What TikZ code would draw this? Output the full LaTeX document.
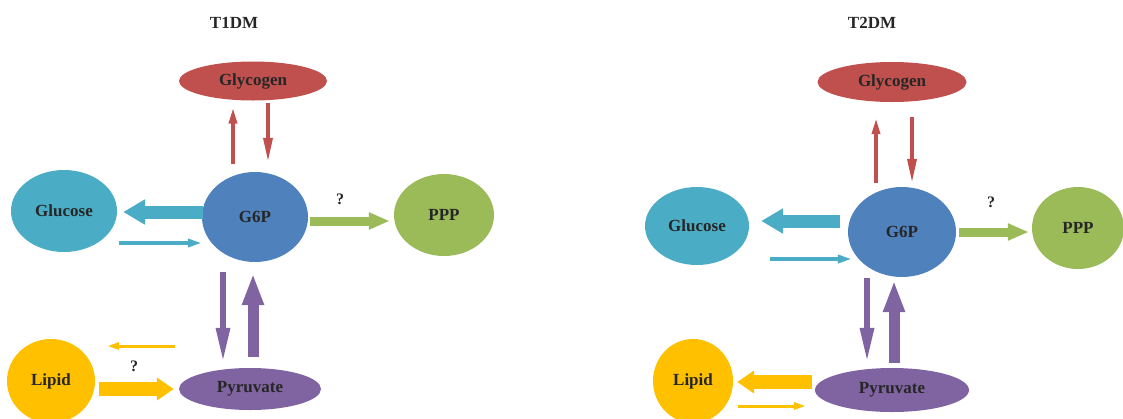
\documentclass[tikz,border=0pt]{standalone}
\usepackage{fontspec}
\setmainfont{Liberation Serif}
\usetikzlibrary{shapes.geometric,arrows.meta,calc}
\definecolor{cred}{HTML}{C0504D}
\definecolor{ccyan}{HTML}{4BACC6}
\definecolor{cblue}{HTML}{4F81BD}
\definecolor{cgreen}{HTML}{9BBB59}
\definecolor{cyel}{HTML}{FFC000}
\definecolor{cpur}{HTML}{8064A2}
\tikzset{
  blob/.style={ellipse, inner sep=0pt, draw=none, font=\fontsize{17}{17}\selectfont\bfseries, text=black!85},
  title/.style={font=\fontsize{17}{17}\selectfont\bfseries, text=black!85},
  qm/.style={font=\fontsize{16}{16}\selectfont\bfseries, text=black!85},
  redthin/.style={draw=cred, line width=3.5pt, -{Triangle[width=8pt,length=16pt]}},
  reddown/.style={draw=cred, line width=3.5pt, -{Triangle[width=9pt,length=24pt]}},
  cyanthick/.style={draw=ccyan, line width=13pt, -{Triangle[width=24pt,length=22pt]}},
  cyanthin/.style={draw=ccyan, line width=4pt, -{Triangle[width=8pt,length=14pt]}},
  greenarr/.style={draw=cgreen, line width=9pt, -{Triangle[width=16pt,length=21pt]}},
  purthin/.style={draw=cpur, line width=6pt, -{Triangle[width=13pt,length=35pt]}},
  purthick/.style={draw=cpur, line width=11pt, -{Triangle[width=20pt,length=32pt]}},
  yelthick/.style={draw=cyel, line width=14pt, -{Triangle[width=22pt,length=17pt]}},
  yelthin/.style={draw=cyel, line width=3pt, -{Triangle[width=7pt,length=12pt]}},
}
\begin{document}
\begin{tikzpicture}[x=1pt,y=-1pt]
\useasboundingbox (0,0) rectangle (1123,418);
% ---------- T1DM ----------
\node[title] (t1) at (234,23) {T1DM};
\node[blob, fill=cred, minimum width=148pt, minimum height=39pt] (gly1) at (253,81) {Glycogen};
\node[blob, fill=ccyan, minimum width=106pt, minimum height=82pt] (glu1) at (64,211) {Glucose};
\node[blob, fill=cblue, minimum width=106pt, minimum height=90pt] (g6p1) at (255,217) {G6P};
\node[blob, fill=cgreen, minimum width=100pt, minimum height=82pt] (ppp1) at (444,215) {PPP};
\node[blob, fill=cyel, minimum width=88pt, minimum height=84pt] (lip1) at (51,381) {Lipid};
\node[blob, fill=cpur, minimum width=142pt, minimum height=42pt] (pyr1) at (250,389) {Pyruvate};
\node[qm] (q1a) at (340,199) {?};
\node[qm] (q1b) at (134,366) {?};

\draw[redthin] ($(g6p1.north)+(-22,-8)$) -- ($(gly1.south)+(-20,7)$);
\draw[reddown] ($(gly1.south)+(15,2)$) -- ($(g6p1.north)+(13,-10)$);
\draw[cyanthick] ($(g6p1.west)+(1,-5)$) -- ($(glu1.east)+(6,1)$);
\draw[cyanthin] ($(glu1.east)+(2,32)$) -- ($(g6p1.west)+(0,26)$);
\draw[greenarr] ($(g6p1.east)+(2,4)$) -- ($(ppp1.west)+(-4,6)$);
\draw[purthin] ($(g6p1.south)+(-32,10)$) -- ($(pyr1.north)+(-27,-5)$);
\draw[purthick] ($(pyr1.north)+(3,-11)$) -- ($(g6p1.south)+(-2,11)$);
\draw[yelthin] ($(pyr1.west)+(-4,-43)$) -- ($(lip1.east)+(12,-35)$);
\draw[yelthick] ($(lip1.east)+(4,8)$) -- ($(pyr1.west)+(-5,0)$);

% ---------- T2DM ----------
\node[title] (t2) at (872,23) {T2DM};
\node[blob, fill=cred, minimum width=149pt, minimum height=40pt] (gly2) at (892,82) {Glycogen};
\node[blob, fill=ccyan, minimum width=104pt, minimum height=78pt] (glu2) at (697,226) {Glucose};
\node[blob, fill=cblue, minimum width=108pt, minimum height=90pt] (g6p2) at (902,232) {G6P};
\node[blob, fill=cgreen, minimum width=92pt, minimum height=82pt] (ppp2) at (1078,228) {PPP};
\node[blob, fill=cyel, minimum width=80pt, minimum height=84pt] (lip2) at (693,381) {Lipid};
\node[blob, fill=cpur, minimum width=154pt, minimum height=44pt] (pyr2) at (892,390) {Pyruvate};
\node[qm] (q2a) at (991,202) {?};

\draw[redthin] ($(g6p2.north)+(-26,-4)$) -- ($(gly2.south)+(-16,16)$);
\draw[reddown] ($(gly2.south)+(20,15)$) -- ($(g6p2.north)+(10,-4)$);
\draw[cyanthick] ($(g6p2.west)+(-8,-11)$) -- ($(glu2.east)+(12,-5)$);
\draw[cyanthin] ($(glu2.east)+(21,33)$) -- ($(g6p2.west)+(4,27)$);
\draw[greenarr] ($(g6p2.east)+(3,0)$) -- ($(ppp2.west)+(-3,4)$);
\draw[purthin] ($(g6p2.south)+(-35,1)$) -- ($(pyr2.north)+(-25,-5)$);
\draw[purthick] ($(pyr2.north)+(2,-5)$) -- ($(g6p2.south)+(-8,3)$);
\draw[yelthick] ($(pyr2.west)+(-3,-8)$) -- ($(lip2.east)+(4,1)$);
\draw[yelthin] ($(lip2.east)+(5,25)$) -- ($(pyr2.west)+(-9,16)$);
\end{tikzpicture}
\end{document}
